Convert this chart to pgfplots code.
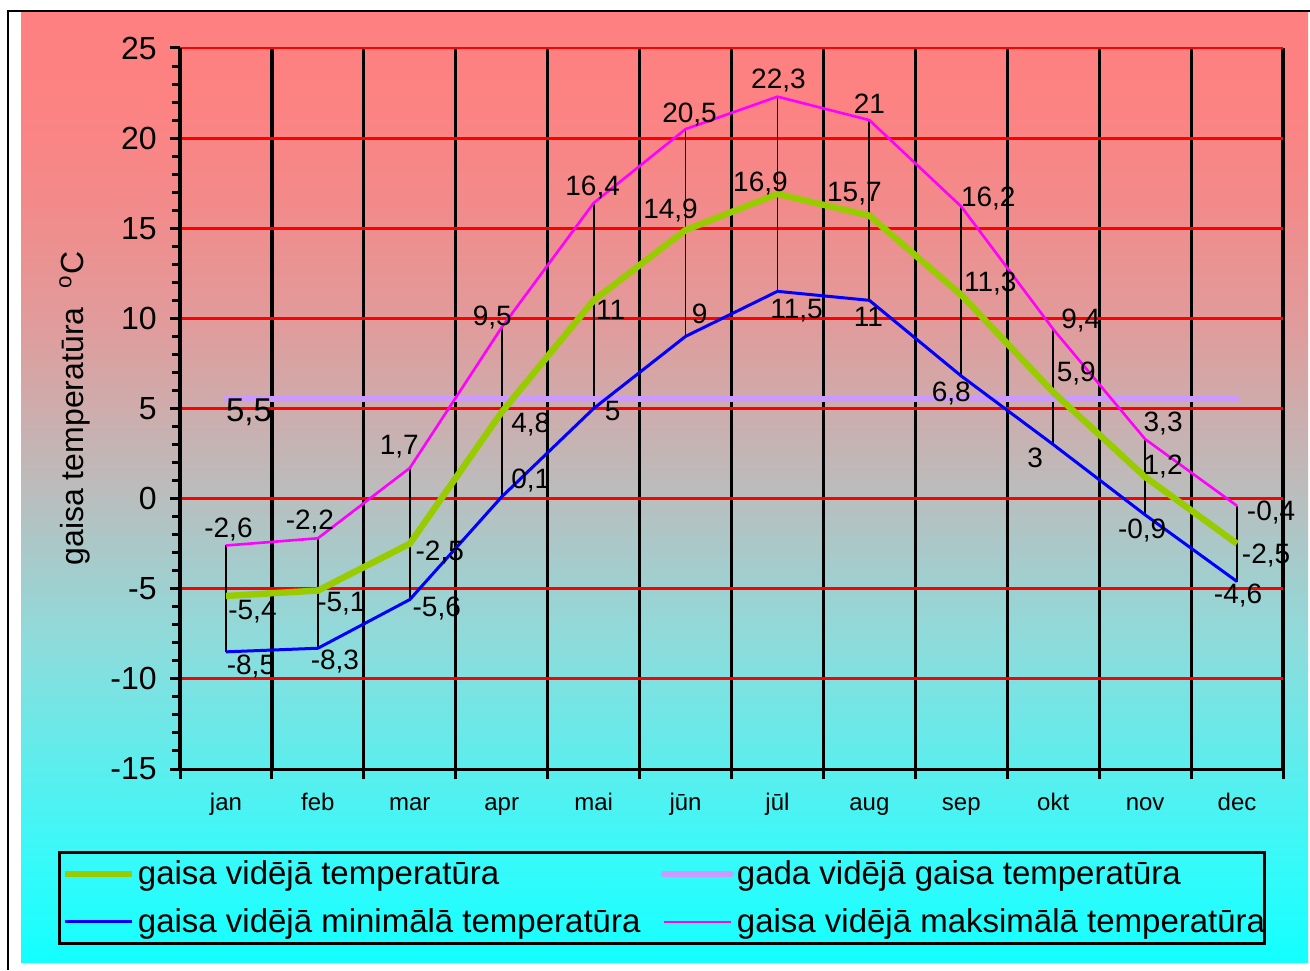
\documentclass[border=0pt]{standalone}
\usepackage{pgfplots}
\pgfplotsset{compat=1.18}
\usepackage{pgfplotstable}
\usepackage{fontspec}
\setmainfont{Liberation Sans}

\definecolor{avgc}{HTML}{99CC00}
\definecolor{yearc}{HTML}{CC99FF}
\definecolor{minc}{HTML}{0000FF}
\definecolor{maxc}{HTML}{FF00FF}
\definecolor{s0}{HTML}{12FFFF}
\definecolor{s1}{HTML}{35FAFA}
\definecolor{s2}{HTML}{5AEEEE}
\definecolor{s3}{HTML}{8DDCDC}
\definecolor{s4}{HTML}{BCBCBC}
\definecolor{s5}{HTML}{E09C9C}
\definecolor{s6}{HTML}{F38A8A}
\definecolor{s7}{HTML}{FD8282}
\definecolor{s8}{HTML}{FF8080}
\pgfdeclareverticalshading{bg}{100bp}{color(0bp)=(s0); color(25bp)=(s0); color(30bp)=(s1);
  color(35bp)=(s2); color(41.7bp)=(s3); color(50bp)=(s4); color(58.4bp)=(s5);
  color(65bp)=(s6); color(70.4bp)=(s7); color(75bp)=(s8); color(100bp)=(s8)}

\newcommand\tkfont{\fontsize{16}{19}\selectfont}
\newcommand\lbfont{\fontsize{14}{16}\selectfont}
\newcommand\mofont{\fontsize{12}{14}\selectfont}
\newcommand\lgfont{\fontsize{16.5}{19}\selectfont}
\newcommand\lgd[1]{\makebox[259pt][l]{#1}}
\newcommand\lgdb[1]{\makebox[263pt][l]{#1}}

% columns: month index, value, label text, label offsets (pt)
\pgfplotstableread{
x y lbl dx dy
0 -2.6 -2,6 1.25 7.8
1 -2.2 -2,2 -4 8.25
2 1.7 1,7 -5.25 10.5
3 9.5 9,5 -4.75 4.75
4 16.4 16,4 -0.5 7.75
5 20.5 20,5 2 7.5
6 22.3 22,3 0.5 8
7 21 21 0 8
8 16.2 16,2 13.5 4
9 9.4 9,4 13.75 4.5
10 3.3 3,3 9 8
11 -0.4 -0,4 17 -3.5
}\maxdata

\pgfplotstableread{
x y lbl dx dy
0 -5.4 -5,4 13.25 -8
1 -5.1 -5,1 11.75 -6.5
2 -2.5 -2,5 15 -4.5
3 4.8 4,8 14.5 -6
4 11 11 8.5 -5
5 14.9 14,9 -7.5 10
6 16.9 16,9 -8.5 5
7 15.7 15,7 -7.5 11
8 11.3 11,3 14.5 5.5
9 5.9 5,9 11.5 9.5
10 1.2 1,2 9 5
11 -2.5 -2,5 14.5 -6
}\avgdata

\pgfplotstableread{
x y lbl dx dy
0 -8.5 -8,5 12.5 -7.5
1 -8.3 -8,3 8.5 -6.75
2 -5.6 -5,6 13.5 -4.5
3 0.1 0,1 14.5 8
4 5 5 9.5 -1.5
5 9 9 7 11.5
6 11.5 11,5 9.5 -9.5
7 11 11 -0.5 -8.5
8 6.8 6,8 -5 -8.5
9 3 3 -9 -6.5
10 -0.9 -0,9 -1.5 -8
11 -4.6 -4,6 0.5 -7
}\mindata

\pgfplotsset{
  lbls/.style={
    nodes near coords={\pgfplotspointmeta},
    point meta=explicit symbolic,
    visualization depends on={\thisrow{dx} \as \dx},
    visualization depends on={\thisrow{dy} \as \dy},
    every node near coord/.append style={anchor=center, inner sep=0pt,
      xshift=\dx pt, yshift=\dy pt, font=\lbfont, text=black},
  },
}

\begin{document}
\begin{tikzpicture}
\begin{scope}[x=0.5pt, y=-0.5pt, shift={(0pt,485pt)}]
  \useasboundingbox (0,0) rectangle (1310,970);
  \fill[white] (0,0) rectangle (1310,970);
  \shade[shading=bg] (21,13) rectangle (1308,962);
  \draw[line width=1.2pt] (8,970) -- (8,11) -- (1310,11);
\end{scope}

\begin{axis}[
  at={(90pt,100.5pt)}, anchor=south west,
  scale only axis, width=551.5pt, height=360.5pt,
  xmin=-0.5, xmax=11.5, ymin=-15, ymax=25,
  clip=false,
  axis x line*=bottom, axis y line*=left,
  axis line style={line width=1.5pt, black, -},
  tick align=outside,
  major tick length=5pt, minor tick length=4pt,
  major tick style={line width=1.5pt, black},
  minor tick style={line width=1.5pt, black},
  xtick={-0.5,0.5,...,11.5},
  xticklabels={},
  xmajorgrids=true,
  major x grid style={black, line width=1.6pt},
  extra x ticks={0,1,2,3,4,5,6,7,8,9,10,11},
  extra x tick labels={jan,feb,mar,apr,mai,jūn,jūl,aug,sep,okt,nov,dec},
  extra x tick style={major tick length=0pt, grid=none,
    tick label style={font=\mofont, anchor=base, yshift=-20.5pt}},
  ytick={-15,-10,-5,0,5,10,15,20,25},
  yticklabels={-15,-10,-5,0,5,10,15,20,25},
  minor y tick num=4,
  ymajorgrids=true,
  major y grid style={red, line width=1.4pt},
  yticklabel style={font=\tkfont, anchor=east, inner sep=0pt, xshift=-6.5pt},
  ylabel={gaisa temperatūra\hspace{0.6em}\textsuperscript{o}C},
  every axis y label/.style={at={(axis description cs:-0.0952,0.5)},
    rotate=90, anchor=center, font=\tkfont},
  legend columns=2,
  legend cell align=left,
  legend image code/.code={\draw[#1] (0pt,0pt) -- (33.5pt,0pt);},
  legend style={at={(axis description cs:-0.1106,-0.1137)}, anchor=north west,
    draw=black, line width=1.5pt, fill=none,
    inner xsep=1pt, inner ysep=4pt, row sep=10.5pt,
    nodes={inner sep=0pt, font=\lgfont},
    /tikz/every odd column/.append style={column sep=1.5pt},
    /tikz/every even column/.append style={column sep=2.5pt}},
]
% high-low lines
\addplot[black, line width=0.9pt, forget plot, unbounded coords=jump] coordinates {
  (0,-2.6) (0,-8.5) (0,nan) (1,-2.2) (1,-8.3) (1,nan) (2,1.7) (2,-5.6) (2,nan)
  (3,9.5) (3,0.1) (3,nan) (4,16.4) (4,5) (4,nan) (5,20.5) (5,9) (5,nan)
  (6,22.3) (6,11.5) (6,nan) (7,21) (7,11) (7,nan) (8,16.2) (8,6.8) (8,nan)
  (9,9.4) (9,3) (9,nan) (10,3.3) (10,-0.9) (10,nan) (11,-0.4) (11,-4.6)
};
% annual mean
\addplot[yearc, line width=3pt, line cap=round, forget plot] coordinates {(0,5.5) (11,5.5)}
  node[pos=0, anchor=center, xshift=11.5pt, yshift=-6.5pt, font=\lgfont, text=black] {5,5};
\addplot[avgc, line width=3.2pt, forget plot, lbls] table[x=x, y=y, meta=lbl] {\avgdata};
\addplot[minc, line width=1.5pt, forget plot, lbls] table[x=x, y=y, meta=lbl] {\mindata};
\addplot[maxc, line width=1.3pt, forget plot, lbls] table[x=x, y=y, meta=lbl] {\maxdata};

\addlegendimage{avgc, line width=3.2pt}
\addlegendimage{yearc, line width=3pt, line cap=round}
\addlegendimage{minc, line width=1.5pt}
\addlegendimage{maxc, line width=1.3pt}
\legend{\lgd{gaisa vidējā temperatūra}, \lgdb{gada vidējā gaisa temperatūra},
  \lgd{gaisa vidējā minimālā temperatūra}, \lgdb{gaisa vidējā maksimālā temperatūra}}
\end{axis}
\end{tikzpicture}
\end{document}
